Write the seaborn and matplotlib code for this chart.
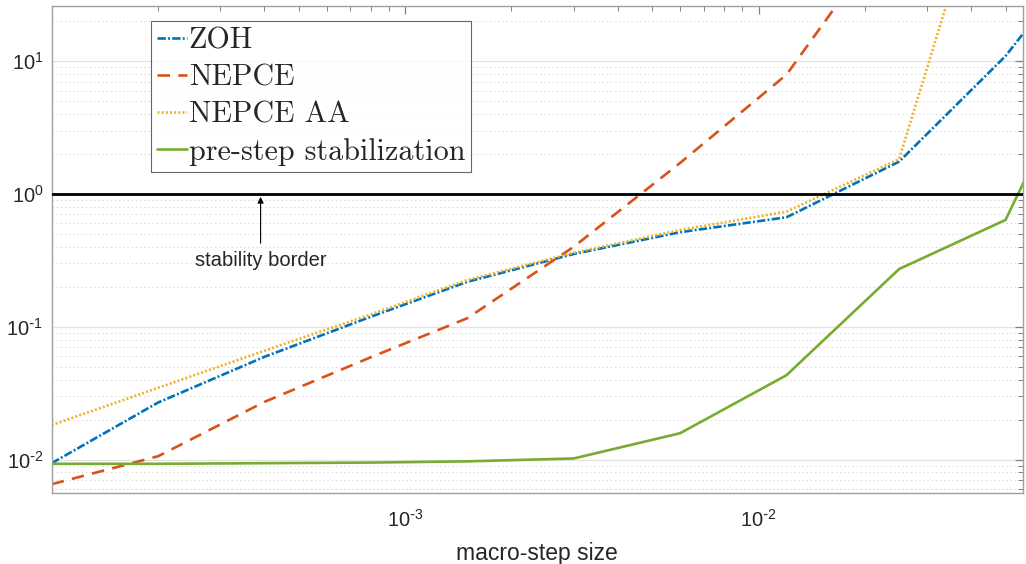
import numpy as np
import pandas as pd
import matplotlib
matplotlib.use("Agg")
import matplotlib.pyplot as plt
from matplotlib.ticker import LogLocator, NullFormatter, FixedLocator, FuncFormatter
import seaborn as sns

# macro-step sizes and spectral radius values
steps = [1e-4, 2e-4, 4e-4, 8e-4, 1.5e-3, 3e-3, 6e-3, 1.2e-2, 2.5e-2, 5e-2, 1e-1]
zoh = [0.0094, 0.0269, 0.0594, 0.119, 0.218, 0.353, 0.515, 0.667, 1.75, 10.9, 115]
nepce = [0.00653, 0.0106, 0.0272, 0.059, 0.116, 0.40, 1.71, 7.9, 118, 2000, 20000]
nepce_aa = [0.0182, 0.0347, 0.066, 0.124, 0.225, 0.36, 0.535, 0.735, 1.83, 750, 5000]
prestep = [0.0093, 0.0093, 0.0094, 0.0095, 0.0097, 0.0102, 0.0158, 0.0432, 0.272, 0.637, 29]

labels = ["ZOH", "NEPCE", "NEPCE AA", "pre-step stabilization"]
colors = ["#0072BD", "#D95319", "#EDB120", "#77AC30"]

sns.set_theme(style="white")
plt.rcParams["font.family"] = ["Liberation Sans", "DejaVu Sans"]
plt.rcParams["mathtext.default"] = "regular"
plt.rcParams["axes.unicode_minus"] = False
plt.rcParams["lines.scale_dashes"] = False

fig = plt.figure(figsize=(10.26, 5.64), dpi=100)
ax = fig.add_axes([0.0504, 0.1254, 0.9466, 0.8645])

styles = [(0, (6.0, 1.6, 1.4, 1.6)), (0, (9.0, 6.0)), (0, (1.4, 1.6)), "-"]
series = [zoh, nepce, nepce_aa, prestep]
for vals, lab, col, ls in zip(series, labels, colors, styles):
    sns.lineplot(x=steps, y=vals, ax=ax, color=col, linewidth=1.9,
                 linestyle=ls, label=lab, estimator=None, sort=False)

# stability border
ax.axhline(1.0, color="black", linewidth=2.0, zorder=5)
ax.annotate("stability border", xy=(3.9e-4, 0.95), xytext=(3.9e-4, 0.317),
            ha="center", va="center", fontsize=14.5,
            arrowprops=dict(arrowstyle="-|>", color="black", lw=0.8,
                            mutation_scale=9, shrinkA=3, shrinkB=0))

ax.set_xscale("log")
ax.set_yscale("log")
ax.set_xlim(1e-4, 0.056)
ax.set_ylim(0.00558, 26.1)


def pow_fmt(v, pos):
    e = int(round(np.log10(v)))
    if e < 0:
        return r"$10^{\text{-}%d}$" % (-e)
    return r"$10^{%d}$" % e


ax.xaxis.set_major_locator(FixedLocator([1e-3, 1e-2]))
ax.xaxis.set_major_formatter(FuncFormatter(pow_fmt))
ax.xaxis.set_minor_locator(LogLocator(base=10, subs=np.arange(2, 10)))
ax.xaxis.set_minor_formatter(NullFormatter())
ax.yaxis.set_major_locator(FixedLocator([1e-2, 1e-1, 1, 10]))
ax.yaxis.set_major_formatter(FuncFormatter(pow_fmt))
ax.yaxis.set_minor_locator(LogLocator(base=10, subs=np.arange(2, 10)))
ax.yaxis.set_minor_formatter(NullFormatter())

ax.grid(True, which="major", axis="y", color="#e3e3e3", linewidth=0.9, linestyle="-")
ax.grid(True, which="minor", axis="y", color="#d6d6d6", linewidth=0.7, linestyle=(0, (1, 2)))
ax.set_axisbelow(True)

ax.tick_params(which="both", direction="in", top=True, right=True, color="#808080",
               labelsize=14.5, labelcolor="#262626")
ax.tick_params(which="major", length=6, width=0.9)
ax.tick_params(which="minor", length=3.5, width=0.7)
ax.tick_params(axis="x", which="major", pad=11)
ax.tick_params(axis="y", which="major", pad=6)
for sp in ax.spines.values():
    sp.set_color("#a0a0a0")
    sp.set_linewidth(1.0)

ax.set_xlabel("macro-step size", fontsize=16.5, color="#262626", labelpad=8)

leg = ax.legend(loc="upper left", bbox_to_anchor=(0.102, 0.969), borderaxespad=0,
                prop={"family": ["cmr10", "DejaVu Serif"], "size": 21.7},
                handlelength=1.0, handletextpad=0.06, borderpad=0.2,
                labelspacing=0.3, fancybox=False, frameon=True)
leg.get_frame().set_edgecolor("#404040")
leg.get_frame().set_linewidth(0.8)

fig.savefig("out.png", dpi=100)
